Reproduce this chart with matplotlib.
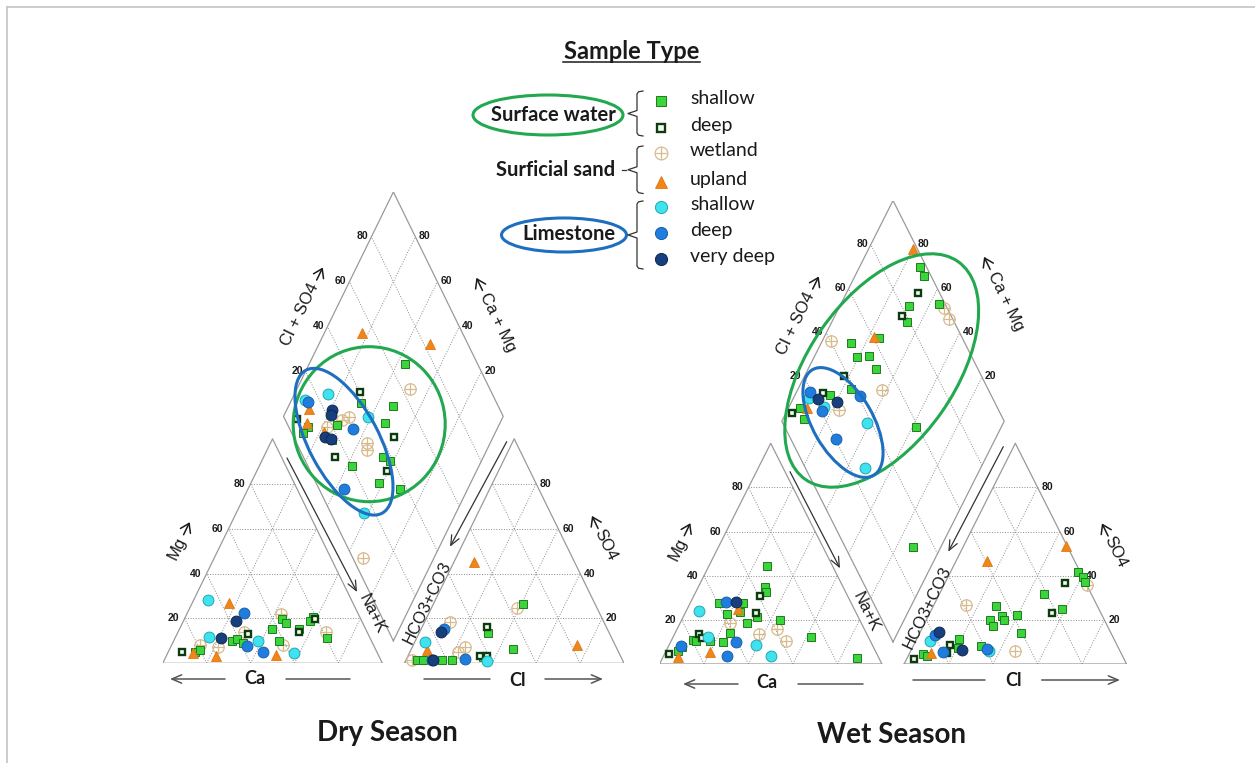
import numpy as np
import matplotlib.pyplot as plt
from matplotlib.patches import Ellipse
from matplotlib.textpath import TextPath
from matplotlib.font_manager import FontProperties

S3 = np.sqrt(3) / 2

# sample type codes: surface water shallow/deep, surficial sand wetland/upland,
# limestone shallow/deep/very deep
# ---------------- Dry season ----------------
dry_cat_ca = [88.5, 84, 82.7, 80, 78.9, 71.2, 74.2, 56.5, 65.1, 72.8, 68.1, 57.2,
              51.7, 63.6, 60.7, 58.7, 54.7, 57.9, 55.9, 51.8, 51.6, 46.8, 42.7, 35,
              36, 35, 42.1, 41.3, 37.9, 30.4, 31.1, 21.3, 23.4, 20.9, 18.7, 19.7]
dry_cat_mg = [5.2, 4.7, 5.2, 5.9, 8.2, 7.1, 3.3, 26.7, 28.2, 11.9, 11.1, 18.8,
              22.3, 9.9, 10.7, 9.2, 13.2, 7.7, 14.1, 9.9, 5.2, 3.6, 15.3, 22,
              19.7, 17.8, 9.9, 8.2, 4.7, 15.3, 13.8, 20.8, 18.8, 19.6, 14.1, 11.4]
dry_cat_type = ["swd", "upl", "sws", "sws", "wet", "wet", "upl", "upl", "lss", "lss", "lsv", "lsv",
                "lsd", "sws", "sws", "sws", "swd", "lsd", "wet", "lss", "lsd", "upl", "sws", "wet",
                "sws", "sws", "sws", "wet", "lss", "sws", "swd", "sws", "sws", "swd", "wet", "sws"]

dry_an_cl = [9.1, 38.9, 41, 74.3, 46.1, 29.6, 31.5, 11.7, 9.5, 10.5, 4.6, 7.5, 23.9,
             21.9, 2.6, 4.9, 7.9, 11.7, 12.5, 16.2, 20.8, 26.7, 32.8, 34.4, 36.1, 37]
dry_an_so4 = [45.3, 24.5, 26.3, 8.2, 6.4, 16.3, 13.4, 18.3, 14.1, 15.5, 9.6, 5.9, 7.4,
              5.2, 1.5, 1.5, 1.5, 1.5, 1.5, 1.5, 1.5, 1.8, 3.3, 2.9, 3.3, 1.2]
dry_an_type = ["upl", "wet", "sws", "upl", "sws", "swd", "sws", "wet", "lsv", "lsd", "lss", "upl", "wet",
               "wet", "wet", "sws", "sws", "lsd", "lsv", "sws", "sws", "lsd", "swd", "sws", "swd", "lss"]

dry_dia_clso4 = [54.2, 82.5, 67.1, 63.4, 40.4, 38.1, 52.1, 13.5, 14.4, 25.4, 13.4, 23.4,
                 21.9, 25.8, 29.8, 38.6, 44.9, 28.7, 9.1, 8.9, 5.2, 5.7, 22.4, 17.4,
                 14.8, 14.3, 16.5, 16.8, 32, 30.7, 45.8, 14.6, 36.5, 38.4, 35.2, 20,
                 28.9, 36.6, 11.4, 15, 4.5]
dry_dia_camg = [82.9, 49.6, 56.1, 48.7, 70.6, 67.7, 52.6, 93.8, 92.2, 84.5, 89.8, 79.4,
                78.8, 72.7, 69.8, 61.3, 52.1, 65.6, 87.8, 86.2, 87.6, 93, 73.8, 78,
                78.4, 76.4, 73.3, 72.7, 56, 54.3, 44.9, 67.5, 45.5, 41.9, 40.6, 57.8,
                41.6, 31, 56.2, 42, 32.6]
dry_dia_type = ["upl", "upl", "sws", "wet", "swd", "sws", "sws", "lss", "lsd", "lss", "upl", "lsv",
                "lsv", "wet", "wet", "lss", "sws", "lsd", "upl", "sws", "sws", "swd", "sws", "wet",
                "upl", "lsv", "lsv", "sws", "wet", "wet", "swd", "swd", "sws", "sws", "swd", "sws",
                "sws", "sws", "lsd", "lss", "wet"]

# ---------------- Wet season ----------------
wet_cat_ca = [29.6, 35.1, 35.8, 39.4, 59.2, 56, 51.6, 48.4, 52.1, 51.9, 70.1, 58.1, 45.1,
              45.3, 58.9, 35.9, 51.3, 39.2, 48.3, 37.8, 25.8, 61.3, 66.5, 60.7, 52.3, 67.9,
              48.1, 10, 74.5, 75.3, 79.6, 78.3, 75.2, 71.9, 72, 93.7, 88.5, 86.2, 89.9, 86.4]
wet_cat_mg = [44.4, 35, 32.8, 30.9, 27.8, 28.2, 28, 27.8, 24.9, 23.7, 24, 22.7, 23,
              21.4, 18.7, 19.9, 18.4, 15.7, 13.6, 10.6, 12.4, 13.9, 10.1, 9.8, 8.6, 3.8,
              3.8, 2.6, 5.6, 13.6, 10.9, 10.6, 11.6, 12.4, 10.6, 4.5, 6, 7.6, 3.3, 8.2]
wet_cat_type = ["sws", "sws", "sws", "swd", "sws", "lsd", "lsv", "sws", "upl", "sws", "lss", "sws", "swd",
                "sws", "wet", "sws", "sws", "wet", "wet", "wet", "sws", "sws", "sws", "lsd", "lss", "lsd",
                "lss", "sws", "upl", "swd", "sws", "sws", "swd", "lss", "sws", "swd", "sws", "sws", "upl", "lsd"]

wet_an_cl = [13.8, 46.1, 57.4, 60.7, 62.8, 64.2, 54, 47, 54.8, 58.5, 14.5, 28.2, 33, 35,
             28.7, 31.2, 39.8, 45.5, 46.9, 8.5, 7.4, 6.3, 19.2, 16.3, 20.8, 14.8, 22.7, 17,
             30.3, 33.8, 35, 6.4, 8.6, 3.4, 9.4]
wet_an_so4 = [46.7, 53.5, 41.8, 39.3, 37, 35.8, 36.6, 31.7, 23.2, 24.8, 26.7, 26.3, 21.7, 19.9,
              19.9, 17.2, 22.2, 13.9, 6, 14.6, 13.1, 10.6, 11.2, 8.6, 7.1, 5.6, 6.3, 4.8,
              8.2, 6.7, 6, 4.5, 3.6, 2.1, 5.1]
wet_an_type = ["upl", "upl", "sws", "sws", "sws", "wet", "swd", "sws", "swd", "sws", "wet", "sws", "sws", "sws",
               "sws", "sws", "sws", "sws", "wet", "lsv", "lsd", "lss", "sws", "swd", "sws", "lsd", "lsv", "swd",
               "sws", "lsd", "lss", "sws", "sws", "swd", "upl"]

wet_dia_clso4 = [98, 97, 97, 90.6, 97, 98.5, 98.5, 83.4, 78.1, 78.8, 60.8, 62.3, 40.4, 48.7,
                 48.4, 54.2, 54.1, 38.4, 38.4, 52.3, 41, 29.3, 19.4, 17.2, 24.6, 21.4, 27.7,
                 22.2, 20.4, 28, 11.2, 14.2, 6.3, 10.2, 20.4, 38, 26.8, 58.9, 30.5]
wet_dia_camg = [80, 73, 69, 67.7, 56, 53, 47.8, 68.6, 69.6, 66.3, 77.5, 75.3, 96, 86.6,
                80.9, 75.4, 69.5, 82.1, 76.3, 61.8, 70.5, 79.3, 94, 93.2, 88, 88.5, 84.2,
                84.1, 84.4, 77, 94.7, 91.7, 97.3, 90.7, 71.5, 61, 51.8, 38.4, 12.7]
wet_dia_type = ["upl", "sws", "sws", "swd", "sws", "wet", "wet", "sws", "swd", "sws", "upl", "sws", "wet", "sws",
                "sws", "sws", "sws", "swd", "sws", "wet", "lsd", "lsv", "lsd", "lss", "swd", "lsv", "sws",
                "lss", "lsd", "wet", "sws", "upl", "swd", "sws", "lsd", "lss", "lss", "sws", "sws"]

TYPE_ORDER = ["wet", "sws", "swd", "upl", "lss", "lsd", "lsv"]
STYLE = {
    "sws": dict(marker="s", ms=6.1, mfc="#3bd43b", mec="#1f7a1f", mew=0.7),
    "swd": dict(marker="s", ms=4.6, mfc="#f4fff0", mec="#0e3a12", mew=1.7),
    "wet": dict(marker="o", ms=8.2, mfc="none", mec="#d8ba8c", mew=0.9),
    "upl": dict(marker="^", ms=7.7, mfc="#f08519", mec="#e07812", mew=0.6),
    "lss": dict(marker="o", ms=7.8, mfc="#3fe3ee", mec="#22a6b6", mew=0.7),
    "lsd": dict(marker="o", ms=7.8, mfc="#1f7ddf", mec="#1a5fa8", mew=0.7),
    "lsv": dict(marker="o", ms=7.8, mfc="#173f7d", mec="#0e2850", mew=0.7),
}

EDGE = "#9a9a9a"
GRID = "#8c8c8c"
TXT = "#1a1a1a"
LABEL_FONT = ["Liberation Sans", "DejaVu Sans"]
TICK_FONT = ["Liberation Sans", "DejaVu Sans"]
CAL_FONT = ["Lato", "DejaVu Sans"]


def cation_xy(ca, mg):
    ca = np.asarray(ca, float); mg = np.asarray(mg, float)
    na = 100 - ca - mg
    return na + mg / 2, mg * S3


def anion_xy(cl, so4):
    cl = np.asarray(cl, float); so4 = np.asarray(so4, float)
    return 110 + cl + so4 / 2, so4 * S3


def diamond_xy(clso4, camg):
    u = np.asarray(clso4, float) / 100; v = np.asarray(camg, float) / 100
    return 105 + 50 * (u - v), 10 * S3 + 100 * S3 * (u + v)


def scatter_types(ax, x, y, types):
    types = np.asarray(types)
    for t in TYPE_ORDER:
        m = types == t
        if not m.any():
            continue
        ax.plot(x[m], y[m], ls="none", clip_on=False, zorder=4, **STYLE[t])
        if t == "wet":
            ax.plot(x[m], y[m], ls="none", marker="+", ms=8.2, mew=0.9,
                    color="#d8ba8c", clip_on=False, zorder=4)


def tick(ax, x, y, s, dx, dy):
    ax.annotate(s, (x, y), xytext=(dx, dy), textcoords="offset points",
                ha="center", va="center", fontsize=7.5, fontweight="bold",
                color=TXT, family=TICK_FONT)


def draw_frame(ax):
    k = np.array([20, 40, 60, 80])
    for off in (0, 110):
        ax.plot([off, off + 100, off + 50, off], [0, 0, 100 * S3, 0],
                color=EDGE, lw=0.9, zorder=2)
        for v in k:
            ax.plot([off + v / 2, off + 100 - v / 2], [v * S3, v * S3], ls=":", color=GRID, lw=0.7)
            ax.plot([off + 100 - v, off + (100 - v) / 2], [0, (100 - v) * S3], ls=":", color=GRID, lw=0.7)
            ax.plot([off + v, off + v + (100 - v) / 2], [0, (100 - v) * S3], ls=":", color=GRID, lw=0.7)
    dx, dy = diamond_xy([0, 100, 100, 0, 0], [0, 0, 100, 100, 0])
    ax.plot(dx, dy, color=EDGE, lw=0.9, zorder=2)
    for v in k:
        x1, y1 = diamond_xy([v, v], [0, 100])
        ax.plot(x1, y1, ls=":", color=GRID, lw=0.7)
        x2, y2 = diamond_xy([0, 100], [v, v])
        ax.plot(x2, y2, ls=":", color=GRID, lw=0.7)
    for v in k:
        x, y = cation_xy([100 - v], [v]); tick(ax, x[0], y[0], str(v), -8, 0)
        x, y = anion_xy([100 - v], [v]); tick(ax, x[0], y[0], str(v), 7, 0)
        x, y = diamond_xy([v], [100]); tick(ax, x[0], y[0], str(v), -6.2, 0.6)
        x, y = diamond_xy([100], [v]); tick(ax, x[0], y[0], str(v), 6.2, 0.6)


fig = plt.figure(figsize=(12.55, 7.63), dpi=100)
FW, FH = 1255.0, 763.0

SEASONS = [
    dict(x0=162.7, base=663.3, sx=2.197, sy=2.592,
         cat=(dry_cat_ca, dry_cat_mg, dry_cat_type),
         an=(dry_an_cl, dry_an_so4, dry_an_type),
         dia=(dry_dia_clso4, dry_dia_camg, dry_dia_type)),
    dict(x0=659.5, base=664.0, sx=2.224, sy=2.5485,
         cat=(wet_cat_ca, wet_cat_mg, wet_cat_type),
         an=(wet_an_cl, wet_an_so4, wet_an_type),
         dia=(wet_dia_clso4, wet_dia_camg, wet_dia_type)),
]

YTOP = 10 * S3 + 200 * S3
for s in SEASONS:
    w = 210 * s["sx"]; h = YTOP * s["sy"]
    ax = fig.add_axes([s["x0"] / FW, (FH - s["base"]) / FH, w / FW, h / FH])
    ax.set_xlim(0, 210); ax.set_ylim(0, YTOP)
    ax.axis("off")
    draw_frame(ax)
    x, y = cation_xy(s["cat"][0], s["cat"][1]); scatter_types(ax, x, y, s["cat"][2])
    x, y = anion_xy(s["an"][0], s["an"][1]); scatter_types(ax, x, y, s["an"][2])
    x, y = diamond_xy(s["dia"][0], s["dia"][1]); scatter_types(ax, x, y, s["dia"][2])

# ---------------- overlay in pixel space ----------------
ov = fig.add_axes([0, 0, 1, 1])
ov.set_xlim(0, FW); ov.set_ylim(FH, 0)
ov.axis("off")
ov.patch.set_alpha(0)

ov.plot([6.5, FW], [6.5, 6.5], color="#c4c4c4", lw=1.2)
ov.plot([6.5, 6.5], [6.5, FH], color="#c4c4c4", lw=1.2)


def arrow(p0, p1, head=True, lw=1.0, color="#444444", hl=0.7, hw=0.3):
    style = f"->,head_length={hl},head_width={hw}" if head else "-"
    ov.annotate("", xy=p1, xytext=p0,
                arrowprops=dict(arrowstyle=style, lw=lw, color=color, shrinkA=0, shrinkB=0))


LBL_SIZE = 12
FP = FontProperties(family=LABEL_FONT, size=LBL_SIZE)


def text_px(s):
    ext = TextPath((0, 0), s, size=LBL_SIZE, prop=FP).get_extents()
    return ext.width * 100 / 72


def rlabel(x, y, s, rot, arrow_at=None, alen=14, gap=5):
    """rotated axis title; the arrow is drawn as a real arrow along the text."""
    r = np.deg2rad(rot)
    d = np.array([np.cos(r), -np.sin(r)])
    wt = text_px(s)
    total = wt + (alen + gap if arrow_at else 0)
    start = np.array([x, y]) - d * total / 2
    head = dict(arrowstyle="->,head_length=0.6,head_width=0.4", lw=1.1, color=TXT,
                shrinkA=0, shrinkB=0)
    if arrow_at == "pre":
        ov.annotate("", xy=start, xytext=start + d * alen, arrowprops=head)
        c = start + d * (alen + gap + wt / 2)
    elif arrow_at == "post":
        c = start + d * wt / 2
        a0 = start + d * (wt + gap)
        ov.annotate("", xy=a0 + d * alen, xytext=a0, arrowprops=head)
    else:
        c = start + d * wt / 2
    ov.text(c[0], c[1], s, rotation=rot, rotation_mode="anchor", ha="center", va="center",
            fontsize=LBL_SIZE, color=TXT, family=LABEL_FONT)


ROT = 64
LABELS = [
    dict(mg=(181, 540), nak=(372, 614), hco=(427.5, 602.5), so4=(602.5, 537.5),
         clso4=(304, 306), camg=(494, 314),
         nak_arrow=((287, 458), (357, 592)), hco_arrow=((506.7, 441.7), (450, 546.7)),
         ca=(255, 679), ca_arrow=((225, 679), (170, 679)), ca_line=((286, 679), (350, 679)),
         cl=(517, 681), cl_line=((424, 679), (490, 679)), cl_arrow=((545, 679), (603, 679)),
         title=(387.5, 733), name="Dry Season"),
    dict(mg=(681.7, 541), nak=(866, 612), hco=(927.5, 607.5), so4=(1112.5, 545),
         clso4=(800, 315), camg=(1001.7, 293),
         nak_arrow=((790, 471.7), (840, 568.3)), hco_arrow=((1003.3, 446.7), (948.3, 551.7)),
         ca=(767, 682), ca_arrow=((738, 684), (683, 684)), ca_line=((798, 684), (863, 684)),
         cl=(1013, 681), cl_line=((913, 680), (985, 680)), cl_arrow=((1041.7, 680), (1120, 680)),
         title=(891.7, 735), name="Wet Season"),
]

for L in LABELS:
    rlabel(*L["mg"], "Mg", ROT, "post")
    rlabel(*L["nak"], "Na+K", -ROT)
    rlabel(*L["hco"], "HCO3+CO3", ROT)
    rlabel(*L["so4"], "SO4", -ROT, "pre", gap=2)
    rlabel(*L["clso4"], "Cl + SO4", ROT, "post")
    rlabel(*L["camg"], "Ca + Mg", -ROT, "pre")
    arrow(*L["nak_arrow"], lw=0.9, color="#333333")
    arrow(*L["hco_arrow"], lw=0.9, color="#333333")
    ov.text(*L["ca"], "Ca", ha="center", va="center", fontsize=13, fontweight="bold",
            color=TXT, family=CAL_FONT)
    ov.text(*L["cl"], "Cl", ha="center", va="center", fontsize=13, fontweight="bold",
            color=TXT, family=CAL_FONT)
    arrow(*L["ca_arrow"], lw=1.1, color="#555555")
    arrow(*L["ca_line"], head=False, lw=1.1, color="#555555")
    arrow(*L["cl_line"], head=False, lw=1.1, color="#555555")
    arrow(*L["cl_arrow"], lw=1.1, color="#555555")
    ov.text(*L["title"], L["name"], ha="center", va="center", fontsize=20, fontweight="bold",
            color=TXT, family=CAL_FONT)

GREEN = "#22a84f"
BLUE = "#1f6fc0"
for (cx, cy, w, h, a, c) in [
        (369.2, 424.2, 152, 155, 0, GREEN),
        (344, 441.7, 162, 70, 62, BLUE),
        (881.7, 370.5, 266, 146, -55, GREEN),
        (843, 422.5, 122, 60, 60, BLUE)]:
    ov.add_patch(Ellipse((cx, cy), w, h, angle=a, fill=False, ec=c, lw=2.2, zorder=6))

# ---------------- legend ----------------
ov.text(631.5, 51.5, "Sample Type", ha="center", va="center", fontsize=17, fontweight="bold",
        color=TXT, family=CAL_FONT)
ov.plot([563, 700], [62, 62], color=TXT, lw=1.1)

ov.add_patch(Ellipse((548, 115), 150, 40, fill=False, ec=GREEN, lw=2.2))
ov.add_patch(Ellipse((564, 235), 125, 34, fill=False, ec=BLUE, lw=2.2))
ov.text(553, 115, "Surface water", ha="center", va="center", fontsize=14.5, fontweight="bold",
        color=TXT, family=CAL_FONT)
ov.text(556, 169.5, "Surficial sand", ha="center", va="center", fontsize=14.5, fontweight="bold",
        color=TXT, family=CAL_FONT)
ov.text(569, 234.5, "Limestone", ha="center", va="center", fontsize=14.5, fontweight="bold",
        color=TXT, family=CAL_FONT)
ov.plot([622, 626], [170, 170], color="#333333", lw=0.9)


def brace(x, y0, y1, tip=-9, hook=6):
    ym = (y0 + y1) / 2
    xs = [x + hook, x + 1.5, x, x, x + tip, x, x, x + 1.5, x + hook]
    ys = [y0, y0 + 0.8, y0 + 3, ym - 3, ym, ym + 3, y1 - 3, y1 - 0.8, y1]
    ov.plot(xs, ys, color="#333333", lw=0.9)


brace(637, 91, 136)
brace(637, 146, 193.5)
brace(637, 201, 269)

LEG = [("sws", 101, "shallow"), ("swd", 128, "deep"), ("wet", 153, "wetland"),
       ("upl", 182, "upland"), ("lss", 207, "shallow"), ("lsd", 233, "deep"),
       ("lsv", 259, "very deep")]
for t, y, name in LEG:
    st = dict(STYLE[t])
    st["ms"] = st["ms"] * 1.12
    ov.plot([661], [y], ls="none", **st)
    if t == "wet":
        ov.plot([661], [y], ls="none", marker="+", ms=st["ms"], mew=0.9, color="#d8ba8c")
    ov.text(690, y - 2.5, name, ha="left", va="center", fontsize=14, color=TXT, family=CAL_FONT)

fig.savefig("out.png", dpi=100, facecolor="white")
